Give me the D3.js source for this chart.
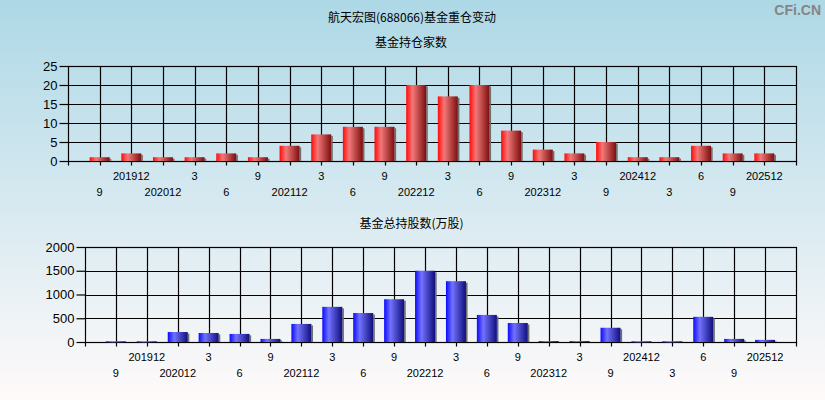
<!DOCTYPE html>
<html>
<head>
<meta charset="utf-8">
<script src="https://cdn.jsdelivr.net/npm/d3@7"></script>
<style>
html,body{margin:0;padding:0;overflow:hidden;}
svg{display:block;font-family:"Liberation Sans",Arial,"Noto Sans CJK SC",sans-serif;}
</style>
</head>
<body>
<svg id="chart" width="825" height="400"></svg>
<script>
const categories = ["201909","201912","202012","202103","202106","202109","202112","202203","202206","202209","202212","202303","202306","202309","202312","202403","202409","202412","202503","202506","202509","202512"];
const tickLabels = ["9","201912","202012","3","6","9","202112","3","6","9","202212","3","6","9","202312","3","9","202412","3","6","9","202512"];
const fundCounts = [1,2,1,1,2,1,4,7,9,9,20,17,20,8,3,2,5,1,1,4,2,2];
const fundShares = [15,15,210,190,170,65,380,740,610,900,1500,1280,570,400,20,20,300,15,15,530,65,45];
const countTicks = [0,5,10,15,20,25];
const shareTicks = [0,500,1000,1500,2000];

const svg = d3.select("#chart");
const defs = svg.append("defs");

const bg = defs.append("linearGradient").attr("id","bg").attr("x1",0).attr("y1",0).attr("x2",0).attr("y2",1);
bg.append("stop").attr("offset","0%").attr("stop-color","#add8e6");
bg.append("stop").attr("offset","100%").attr("stop-color","#fffafa");

function barGrad(id, c0, c1, c2){
  const g = defs.append("linearGradient").attr("id",id).attr("x1",0).attr("y1",0).attr("x2",1).attr("y2",0);
  g.append("stop").attr("offset","0%").attr("stop-color",c0);
  g.append("stop").attr("offset","32%").attr("stop-color",c1);
  g.append("stop").attr("offset","100%").attr("stop-color",c2);
}
barGrad("redBar","#ff0a0a","#f27878","#7c0e0e");
barGrad("blueBar","#0a0aff","#7272ff","#0e0e7c");

svg.append("rect").attr("width",825).attr("height",400).attr("fill","url(#bg)");

const cjk = '"Noto Sans CJK SC","Liberation Sans",sans-serif';

svg.append("text").attr("x",412).attr("y",22).attr("text-anchor","middle")
  .style("font-family",cjk).style("font-size","12px").attr("fill","#000")
  .text("航天宏图(688066)基金重仓变动");

svg.append("text").attr("x",821).attr("y",15).attr("text-anchor","end")
  .style("font-size","14px").style("font-weight","bold").attr("fill","#858585")
  .text("CFi.CN");

function panel(opts){
  const {left,right,top,bottom,values,ticks,max,grad,title,titleY,labelY1,labelY2} = opts;
  const g = svg.append("g");
  const x = d3.scalePoint().domain(categories).range([left,right]).padding(1);
  const y = d3.scaleLinear().domain([0,max]).range([bottom,top]);

  g.append("text").attr("x",(left+right)/2 + (opts.titleDx||0)).attr("y",titleY).attr("text-anchor","middle")
    .style("font-family",cjk).style("font-size","12px").attr("fill","#000").text(title);

  // grid horizontal
  g.selectAll(".hg").data(ticks).enter().append("line")
    .attr("x1",left).attr("x2",right)
    .attr("y1",d=>Math.round(y(d))+0.5).attr("y2",d=>Math.round(y(d))+0.5)
    .attr("stroke","#000").attr("stroke-width",1.2);
  // grid vertical
  g.selectAll(".vg").data(categories).enter().append("line")
    .attr("x1",d=>Math.round(x(d))+0.5).attr("x2",d=>Math.round(x(d))+0.5)
    .attr("y1",top).attr("y2",bottom)
    .attr("stroke","#000").attr("stroke-width",1.2);
  // border
  g.append("rect").attr("x",Math.round(left)+0.5).attr("y",Math.round(top)+0.5)
    .attr("width",Math.round(right)-Math.round(left)).attr("height",Math.round(bottom)-Math.round(top))
    .attr("fill","none").attr("stroke","#000").attr("stroke-width",1.2);

  // y axis
  const yAxis = d3.axisLeft(y).tickValues(ticks).tickSize(9).tickPadding(2).tickFormat(d3.format("d"));
  const ya = g.append("g").attr("transform",`translate(${Math.round(left)+0.5},0)`).call(yAxis);
  ya.select(".domain").remove();
  ya.selectAll("line").attr("stroke","#000").attr("stroke-width",1.2);
  ya.selectAll("text").style("font-size","13px").style("font-family",'"Liberation Sans",Arial,sans-serif').attr("fill","#000");

  // x ticks
  const xt = [left, ...categories.map(c=>x(c)), right];
  g.selectAll(".xt").data(xt).enter().append("line")
    .attr("x1",d=>Math.round(d)+0.5).attr("x2",d=>Math.round(d)+0.5)
    .attr("y1",Math.round(bottom)).attr("y2",Math.round(bottom)+4.5)
    .attr("stroke","#000").attr("stroke-width",1.2);

  // bars
  const bw = 20;
  const bars = g.selectAll(".bar").data(values).enter().append("g");
  bars.append("rect")
    .attr("x",(d,i)=>x(categories[i]) - bw/2 + bw)
    .attr("y",d=>y(d)+1.5)
    .attr("width",1.6)
    .attr("height",d=>Math.max(0, Math.round(bottom) - y(d) - 1.5))
    .attr("fill","#6f6f6f");
  bars.append("rect")
    .attr("x",(d,i)=>x(categories[i]) - bw/2)
    .attr("y",d=>y(d))
    .attr("width",bw)
    .attr("height",d=>Math.max(1, Math.round(bottom) - y(d)))
    .attr("fill",`url(#${grad})`);

  // x labels
  g.selectAll(".xl").data(categories).enter().append("text")
    .attr("x",d=>x(d)).attr("y",(d,i)=> i%2===1 ? labelY1 : labelY2)
    .attr("text-anchor","middle")
    .style("font-size","11px").attr("fill","#000")
    .text((d,i)=>tickLabels[i]);
}

panel({left:68,right:796,top:66,bottom:161,values:fundCounts,ticks:countTicks,max:25,grad:"redBar",
  title:"基金持仓家数",title:"基金持仓家数",titleY:47,titleDx:-21,labelY1:180,labelY2:196});
panel({left:85,right:796,top:247,bottom:342,values:fundShares,ticks:shareTicks,max:2000,grad:"blueBar",
  title:"基金总持股数(万股)",titleY:228,titleDx:-29,labelY1:361,labelY2:377});
</script>
</body>
</html>
